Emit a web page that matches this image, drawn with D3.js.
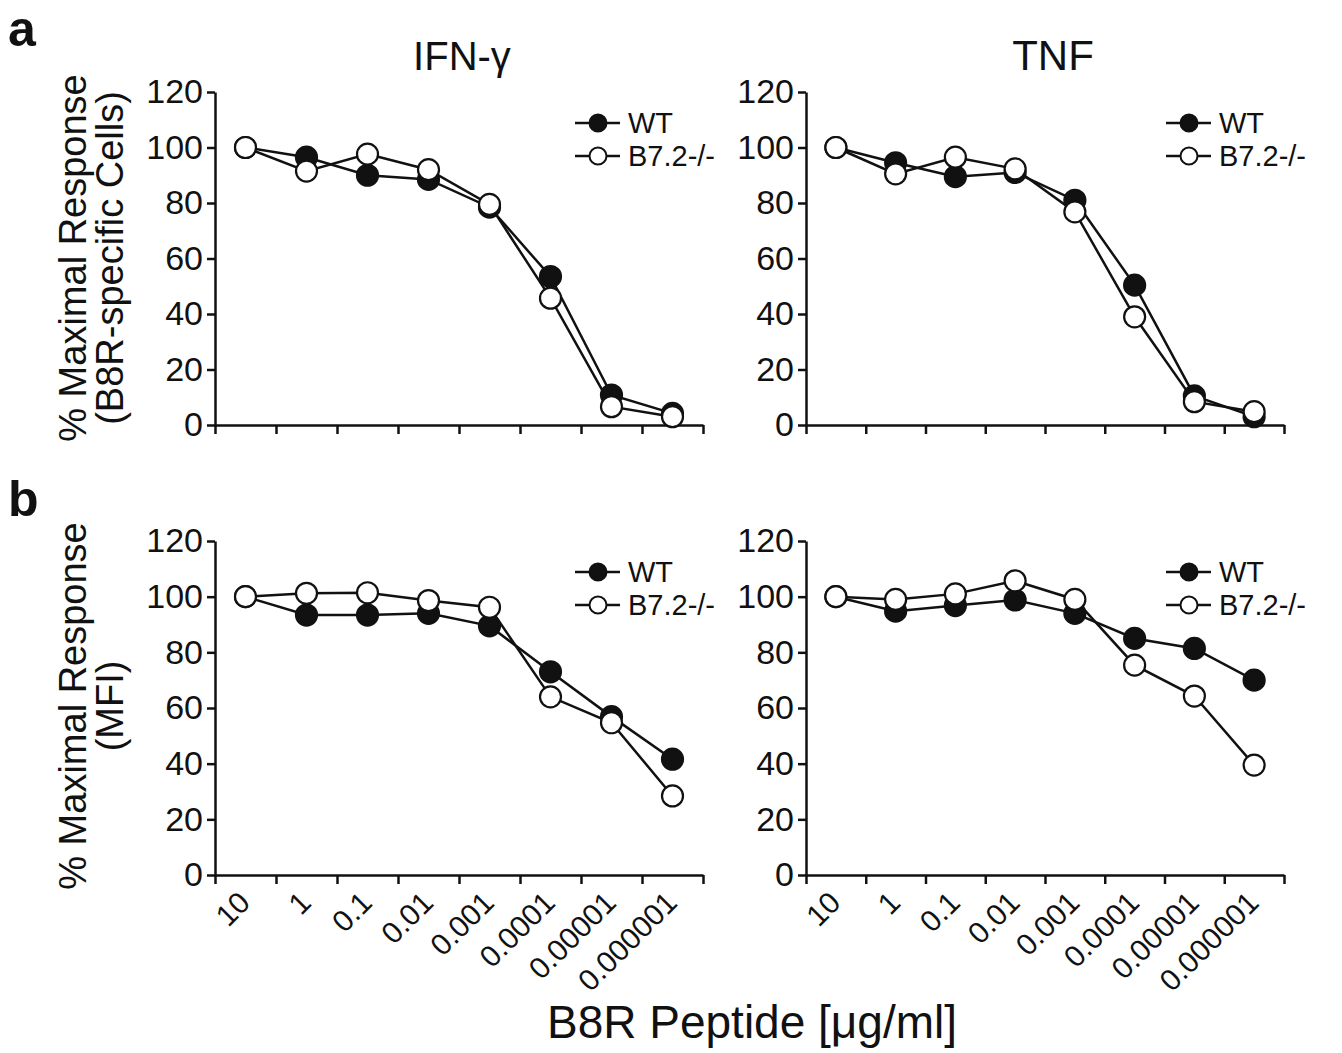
<!DOCTYPE html>
<html>
<head>
<meta charset="utf-8">
<script src="https://cdn.jsdelivr.net/npm/d3@7"></script>
<style>
  body { margin: 0; background: #fff; }
  svg { font-family: Arial, "Liberation Sans", sans-serif; }
</style>
</head>
<body>
<div id="chart"></div>
<script>
// peptide concentrations (µg/ml), one per point
var doses = ["10", "1", "0.1", "0.01", "0.001", "0.0001", "0.00001", "0.000001"]
var yTicks = [0, 20, 40, 60, 80, 100, 120]
var seriesNames = ["WT", "B7.2-/-"]

// a: % of maximal response, B8R-specific cells
var ifnCellsWT = [100, 96.5, 90, 88.5, 78.5, 53.5, 10.8, 4.2]
var ifnCellsKO = [100, 91.5, 97.6, 92, 79.5, 45.7, 6.6, 3]
var tnfCellsWT = [100, 94.5, 89.5, 91, 81, 50.4, 10.5, 3]
var tnfCellsKO = [100, 90.5, 96.5, 92.3, 76.8, 39, 8.4, 4.8]

// b: % of maximal response, MFI
var ifnMfiWT = [100, 93.4, 93.4, 94, 89.5, 73, 56.9, 41.6]
var ifnMfiKO = [100, 101.2, 101.4, 98.6, 96.2, 64, 54.7, 28.4]
var tnfMfiWT = [100, 94.8, 96.8, 98.8, 94, 85, 81.4, 70]
var tnfMfiKO = [100, 99, 101, 105.7, 99, 75.4, 64.3, 39.5]

var width = 1342
var height = 1053

var svg = d3.select("#chart").append("svg")
    .attr("width", width)
    .attr("height", height)

var panels = [
    {left: 215, right: 703, top: 92, bottom: 425, wt: ifnCellsWT, ko: ifnCellsKO, labels: false},
    {left: 806, right: 1284, top: 92, bottom: 425, wt: tnfCellsWT, ko: tnfCellsKO, labels: false},
    {left: 215, right: 703, top: 541, bottom: 875, wt: ifnMfiWT, ko: ifnMfiKO, labels: true},
    {left: 806, right: 1284, top: 541, bottom: 875, wt: tnfMfiWT, ko: tnfMfiKO, labels: true}
]

panels.forEach(drawPanel)

function drawPanel(p) {
    var g = svg.append("g")

    // index scale for tick marks, band scale for the point positions
    var xIdx = d3.scaleLinear().domain([0, doses.length]).range([p.left, p.right])
    var x = d3.scaleBand().domain(doses).range([p.left, p.right])
    var y = d3.scaleLinear().domain([0, 120]).range([p.bottom, p.top])
    var cx = function(i) { return x(doses[i]) + x.bandwidth() / 2 }

    var xAxis = g.append("g")
        .attr("transform", "translate(0," + p.bottom + ")")
        .call(d3.axisBottom(xIdx).tickValues(d3.range(doses.length + 1)).tickFormat("").tickSize(9).tickSizeOuter(0))
    var yAxis = g.append("g")
        .attr("transform", "translate(" + p.left + ",0)")
        .call(d3.axisLeft(y).tickValues(yTicks).tickSize(8).tickSizeOuter(0).tickPadding(4))

    ;[xAxis, yAxis].forEach(function(a) {
        a.selectAll("path, line").attr("stroke", "#111").attr("stroke-width", 2.5)
    })
    yAxis.selectAll("text")
        .attr("font-size", 34)
        .attr("fill", "#111")
        .attr("font-family", "Arial, 'Liberation Sans', sans-serif")

    if (p.labels) {
        g.selectAll(".xlab").data(doses).enter().append("text")
            .attr("transform", function(d, i) {
                return "translate(" + (cx(i) - 1) + "," + (p.bottom + 22) + ") rotate(-45)"
            })
            .attr("text-anchor", "end")
            .attr("dy", "0.35em")
            .attr("font-size", 30)
            .attr("fill", "#111")
            .text(function(d) { return d })
    }

    var line = d3.line()
        .x(function(d, i) { return cx(i) })
        .y(function(d) { return y(d) })

    ;[p.wt, p.ko].forEach(function(vals) {
        g.append("path").datum(vals)
            .attr("fill", "none")
            .attr("stroke", "#111")
            .attr("stroke-width", 2.5)
            .attr("d", line)
    })
    ;[[p.wt, "#111"], [p.ko, "#fff"]].forEach(function(s) {
        g.selectAll(null).data(s[0]).enter().append("circle")
            .attr("cx", function(d, i) { return cx(i) })
            .attr("cy", function(d) { return y(d) })
            .attr("r", 10.5)
            .attr("fill", s[1])
            .attr("stroke", "#111")
            .attr("stroke-width", 2.2)
    })

    // legend
    var lx = p.left + 360
    var ly = p.top + 31
    seriesNames.forEach(function(name, i) {
        var row = g.append("g").attr("transform", "translate(" + lx + "," + (ly + i * 33) + ")")
        row.append("line").attr("x1", 0).attr("x2", 45).attr("stroke", "#111").attr("stroke-width", 2.5)
        row.append("circle").attr("cx", 23).attr("r", 8.5)
            .attr("fill", i == 0 ? "#111" : "#fff")
            .attr("stroke", "#111").attr("stroke-width", 2)
        row.append("text").attr("x", 53).attr("dy", "0.36em")
            .attr("font-size", 29).attr("fill", "#111").text(name)
    })
}

// titles and axis labels
svg.append("text").attr("x", 462).attr("y", 70).attr("text-anchor", "middle")
    .attr("font-size", 40).attr("fill", "#111").text("IFN-γ")
svg.append("text").attr("x", 1053).attr("y", 70).attr("text-anchor", "middle")
    .attr("font-size", 42).attr("fill", "#111").text("TNF")
svg.append("text").attr("x", 8).attr("y", 46)
    .attr("font-size", 50).attr("font-weight", "bold").attr("fill", "#111").text("a")
svg.append("text").attr("x", 8).attr("y", 516)
    .attr("font-size", 50).attr("font-weight", "bold").attr("fill", "#111").text("b")

var yLabels = [
    {cy: 258, lines: ["% Maximal Response", "(B8R-specific Cells)"]},
    {cy: 706, lines: ["% Maximal Response", "(MFI)"]}
]
yLabels.forEach(function(l) {
    l.lines.forEach(function(t, i) {
        svg.append("text")
            .attr("transform", "translate(" + (86 + i * 37) + "," + l.cy + ") rotate(-90)")
            .attr("text-anchor", "middle")
            .attr("font-size", 38).attr("fill", "#111").text(t)
    })
})

svg.append("text").attr("x", 752).attr("y", 1038).attr("text-anchor", "middle")
    .attr("font-size", 46).attr("fill", "#111").text("B8R Peptide [μg/ml]")
</script>
</body>
</html>
